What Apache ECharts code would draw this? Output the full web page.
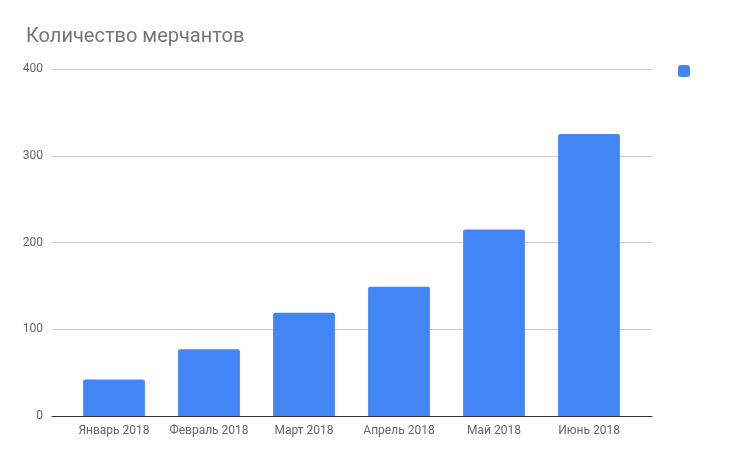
<!DOCTYPE html>
<html>
<head>
<meta charset="utf-8">
<script src="https://cdn.jsdelivr.net/npm/echarts@6/dist/echarts.min.js"></script>
<style>html,body{margin:0;padding:0;background:#fff}#c{width:746px;height:461px}</style>
</head>
<body>
<div id="c"></div>
<script>
const categories = ['Январь 2018', 'Февраль 2018', 'Март 2018', 'Апрель 2018', 'Май 2018', 'Июнь 2018'];
const merchants = [42, 77, 119, 149, 215, 325];
const yTicks = [0, 100, 200, 300, 400];

const yMin = yTicks[0], yMax = yTicks[yTicks.length - 1];
const chart = echarts.init(document.getElementById('c'), null, {renderer: 'canvas'});
chart.setOption({
  animation: false,
  textStyle: {fontFamily: 'Roboto'},
  title: {
    text: 'Количество мерчантов',
    left: 21, top: 22,
    textStyle: {fontFamily: 'Roboto', fontSize: 20, fontWeight: 'normal', color: '#757575'}
  },
  legend: {
    left: 673, top: 60,
    itemWidth: 12, itemHeight: 12, itemGap: 0,
    icon: 'roundRect',
    formatter: function(){ return ''; },
    data: ['Мерчанты']
  },
  grid: [
    {left: 52, right: 94, top: 69, bottom: 45, containLabel: false},
    {left: 66.5, right: 109.5, top: 69, bottom: 45, containLabel: false}
  ],
  xAxis: [{
    gridIndex: 0,
    type: 'value', min: 0, max: 1,
    axisTick: {show: false},
    axisLabel: {show: false},
    splitLine: {show: false},
    axisLine: {show: true, lineStyle: {color: '#333', width: 1}}
  }, {
    gridIndex: 1,
    type: 'category',
    data: categories,
    axisTick: {show: false},
    axisLine: {show: false},
    axisLabel: {color: '#666', fontSize: 12, margin: 9, interval: 0}
  }],
  yAxis: [{
    gridIndex: 0,
    type: 'value',
    min: yMin, max: yMax, interval: 100,
    axisLine: {show: false},
    axisTick: {show: false},
    splitLine: {lineStyle: {color: '#cccccc'}},
    axisLabel: {color: '#666', fontSize: 12, margin: 9}
  }, {
    gridIndex: 1,
    type: 'value',
    min: yMin, max: yMax, interval: 100,
    show: false
  }],
  series: [{
    name: 'Мерчанты',
    type: 'bar',
    xAxisIndex: 1, yAxisIndex: 1,
    data: merchants,
    barWidth: '65%',
    itemStyle: {color: '#4285F4', borderRadius: [2, 2, 0, 0]},
    z: 3
  }]
});
</script>
</body>
</html>
